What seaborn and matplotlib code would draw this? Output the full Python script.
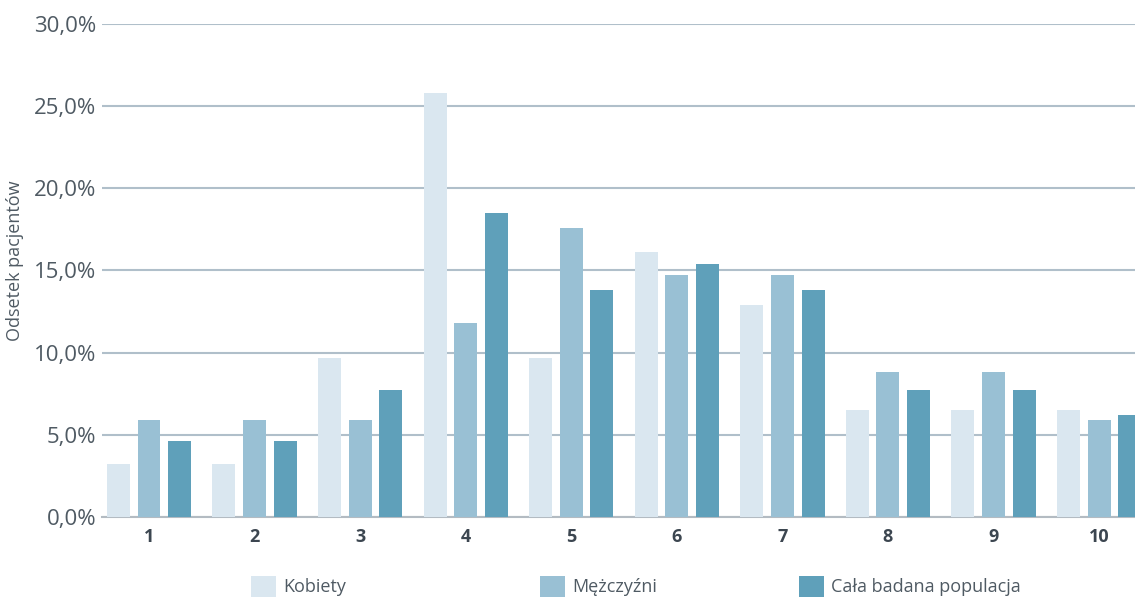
import matplotlib
matplotlib.use("Agg")
import matplotlib.pyplot as plt
import seaborn as sns
import pandas as pd
from matplotlib.ticker import FuncFormatter

# Share of patients (%) in each score category
categories = ["1", "2", "3", "4", "5", "6", "7", "8", "9", "10"]
kobiety = [3.2, 3.2, 9.7, 25.8, 9.7, 16.1, 12.9, 6.5, 6.5, 6.5]
mezczyzni = [5.9, 5.9, 5.9, 11.8, 17.6, 14.7, 14.7, 8.8, 8.8, 5.9]
cala = [4.6, 4.6, 7.7, 18.5, 13.8, 15.4, 13.8, 7.7, 7.7, 6.2]
series_names = ["Kobiety", "Mężczyźni", "Cała badana populacja"]
colors = ["#dae7f0", "#99c0d4", "#5fa0ba"]

df = pd.DataFrame({
    "kat": categories * 3,
    "seria": [series_names[0]] * 10 + [series_names[1]] * 10 + [series_names[2]] * 10,
    "val": kobiety + mezczyzni + cala,
})

sns.set_theme(style="white")
plt.rcParams["font.family"] = ["Open Sans", "DejaVu Sans"]

fig = plt.figure(figsize=(11.35, 5.97), dpi=100)
ax = fig.add_axes([0.0899, 0.134, 0.9101, 0.826])

sns.barplot(data=df, x="kat", y="val", hue="seria", order=categories,
            hue_order=series_names, palette=colors, width=0.87, gap=0.25,
            saturation=1, linewidth=0, ax=ax, legend=False, zorder=3)

ax.set_ylim(0, 30)
ax.set_xlim(-0.445, 9.34)
ax.set_yticks([0, 5, 10, 15, 20, 25, 30])
ax.yaxis.set_major_formatter(FuncFormatter(lambda v, p: f"{v:.1f}".replace(".", ",") + "%"))
ax.grid(axis="y", color="#b0bfca", linewidth=1.5, zorder=0)
ax.grid(axis="x", visible=False)
for s in ["top", "right", "left"]:
    ax.spines[s].set_visible(False)
ax.spines["bottom"].set_color("#b3bbc2")
ax.spines["bottom"].set_linewidth(1.5)
ax.tick_params(axis="y", length=0, pad=4, labelsize=16, labelcolor="#4f5a63")
ax.tick_params(axis="x", length=0, pad=8, labelsize=13, labelcolor="#3c4650")
for lbl in ax.get_xticklabels():
    lbl.set_fontweight("bold")
ax.set_xlabel("")
ax.set_ylabel("Odsetek pacjentów", fontsize=13, color="#4f5a63", labelpad=8)
ax.yaxis.set_label_coords(-0.076, 0.52)

# one legend entry per series at fixed positions along the bottom
handles = [c.patches[0] for c in ax.containers]
xpos = [0.213, 0.468, 0.696]
for h, name, x in zip(handles, series_names, xpos):
    fig.legend([h], [name], loc="center left", bbox_to_anchor=(x, 0.018),
               frameon=False, fontsize=13, handlelength=1.4, handleheight=1.4,
               handletextpad=0.4, borderpad=0, labelcolor="#4f5a63")

fig.savefig("out.png", dpi=100)
